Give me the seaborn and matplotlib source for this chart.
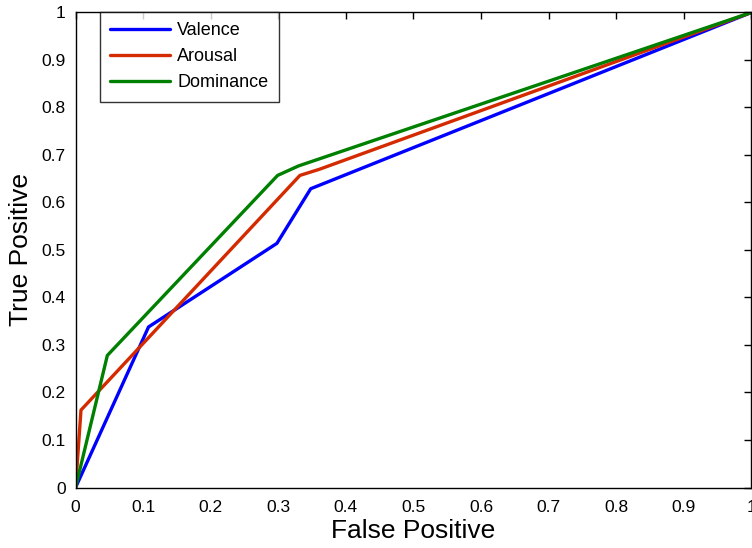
import matplotlib
matplotlib.use("Agg")
import matplotlib.pyplot as plt
import seaborn as sns
import pandas as pd

# ROC points
valence_fp = [0.0, 0.108, 0.298, 0.348, 1.0]
valence_tp = [0.0, 0.338, 0.514, 0.629, 1.0]

arousal_fp = [0.0, 0.008, 0.332, 0.361, 1.0]
arousal_tp = [0.0, 0.163, 0.657, 0.670, 1.0]

dominance_fp = [0.0, 0.047, 0.299, 0.330, 1.0]
dominance_tp = [0.0, 0.278, 0.657, 0.677, 1.0]

series_names = ["Valence", "Arousal", "Dominance"]
colors = ["#0000FF", "#D42A00", "#008000"]
ticks = [0, 0.1, 0.2, 0.3, 0.4, 0.5, 0.6, 0.7, 0.8, 0.9, 1]
tick_labels = ["0", "0.1", "0.2", "0.3", "0.4", "0.5", "0.6", "0.7", "0.8", "0.9", "1"]

frames = []
for name, fp, tp in zip(series_names,
                        [valence_fp, arousal_fp, dominance_fp],
                        [valence_tp, arousal_tp, dominance_tp]):
    frames.append(pd.DataFrame({"fp": fp, "tp": tp, "series": name}))
df = pd.concat(frames, ignore_index=True)

sns.set_style("white")
plt.rcParams["font.family"] = ["Liberation Sans", "DejaVu Sans"]
plt.rcParams["text.color"] = "black"
plt.rcParams["axes.labelcolor"] = "black"

fig = plt.figure(figsize=(7.52, 5.48), dpi=100)
ax = fig.add_axes([0.1005, 0.1104, 0.8985, 0.8668])

sns.lineplot(data=df, x="fp", y="tp", hue="series", hue_order=series_names,
             palette=colors, sort=False, linewidth=2.4, ax=ax, legend=True)

ax.set_xlim(0, 1)
ax.set_ylim(0, 1)
ax.set_xticks(ticks)
ax.set_xticklabels(tick_labels)
ax.set_yticks(ticks)
ax.set_yticklabels(tick_labels)
ax.tick_params(direction="in", length=5, width=1, top=True, right=True,
               labelsize=12.5, colors="black")
ax.tick_params(axis="x", pad=9)
ax.tick_params(axis="y", pad=7)
for s in ax.spines.values():
    s.set_color("black")
    s.set_linewidth(1)
    s.set_visible(True)

ax.set_xlabel("False Positive", fontsize=19, labelpad=3, color="black")
ax.set_ylabel("True Positive", fontsize=19, labelpad=6, color="black")

leg = ax.legend(loc="upper left", bbox_to_anchor=(0.0355, 1.002), borderaxespad=0,
                fontsize=13, frameon=True, fancybox=False, handlelength=3.3,
                borderpad=0.6, labelspacing=0.5, handletextpad=0.4)
leg.get_frame().set_edgecolor("black")
leg.get_frame().set_linewidth(1)
for line in leg.get_lines():
    line.set_linewidth(2.4)

fig.savefig("out.png", dpi=100)
